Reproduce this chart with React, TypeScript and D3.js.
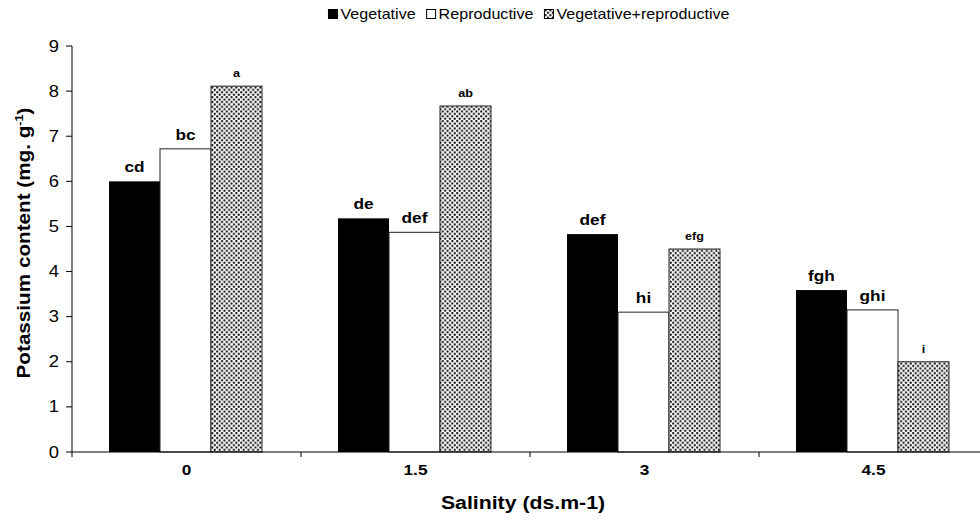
import React, { useEffect, useRef } from 'react';
import * as d3 from 'd3';

// Potassium content by salinity level and organ
const categories = ['0', '1.5', '3', '4.5'];
const series = ['Vegetative', 'Reproductive', 'Vegetative+reproductive'];
const vegetative = [6.0, 5.18, 4.83, 3.59];
const reproductive = [6.72, 4.87, 3.1, 3.15];
const vegReproductive = [8.11, 7.67, 4.5, 2.0];
const vegLetters = ['cd', 'de', 'def', 'fgh'];
const repLetters = ['bc', 'def', 'hi', 'ghi'];
const vegRepLetters = ['a', 'ab', 'efg', 'i'];
const yTicks = [0, 1, 2, 3, 4, 5, 6, 7, 8, 9];

const FONT = 'Arial, "Liberation Sans", Helvetica, sans-serif';
const SX = 1.15; // source text is a bit wider than Arial

export default function App() {
  const svgRef = useRef<SVGSVGElement | null>(null);

  useEffect(() => {
    const width = 980;
    const height = 521;
    const margin = { top: 46, right: -8, bottom: 69, left: 72 };

    const svg = d3.select(svgRef.current).attr('width', width).attr('height', height);
    svg.selectAll('*').remove();

    const defs = svg.append('defs');
    const p = 4.8;
    const pat = defs.append('pattern').attr('id', 'dots')
      .attr('width', p).attr('height', p).attr('patternUnits', 'userSpaceOnUse');
    pat.append('rect').attr('width', p).attr('height', p).attr('fill', '#fff');
    pat.append('circle').attr('cx', p / 4).attr('cy', p / 4).attr('r', 1.1).attr('fill', '#000');
    pat.append('circle').attr('cx', (3 * p) / 4).attr('cy', (3 * p) / 4).attr('r', 1.1).attr('fill', '#000');

    const x = d3.scaleBand().domain(categories).range([margin.left, width - margin.right]);
    const inner = d3.scaleBand().domain(series).range([37, 190]);
    const y = d3.scaleLinear().domain([0, 9]).range([height - margin.bottom, margin.top]);

    const fills = ['#000', '#fff', 'url(#dots)'];
    const valueSets = [vegetative, reproductive, vegReproductive];
    const letterSets = [vegLetters, repLetters, vegRepLetters];
    const letterSize = [15, 15, 11];

    const txt = (g: any, px: number, py: number, s: string, size: number, bold = false, anchor = 'middle', rot = 0) =>
      g.append('text')
        .attr('transform', `translate(${px},${py}) rotate(${rot}) scale(${SX},1)`)
        .attr('text-anchor', anchor)
        .attr('font-family', FONT)
        .attr('font-size', size)
        .attr('font-weight', bold ? 'bold' : 'normal')
        .attr('fill', '#000')
        .text(s);

    // Bars
    series.forEach((s, si) => {
      const g = svg.append('g');
      categories.forEach((c, ci) => {
        const v = valueSets[si][ci];
        const bx = (x(c) as number) + (inner(s) as number);
        g.append('rect')
          .attr('x', bx).attr('y', y(v))
          .attr('width', inner.bandwidth()).attr('height', y(0) - y(v))
          .attr('fill', fills[si])
          .attr('stroke', si === 0 ? 'none' : '#222').attr('stroke-width', 1);
        txt(g, bx + inner.bandwidth() / 2, y(v) - 9, letterSets[si][ci], letterSize[si], true);
      });
    });

    // Y axis
    const ax = svg.append('g');
    ax.append('line').attr('x1', margin.left).attr('x2', margin.left)
      .attr('y1', y(0)).attr('y2', y(9)).attr('stroke', '#000');
    yTicks.forEach(t => {
      ax.append('line').attr('x1', margin.left - 6).attr('x2', margin.left)
        .attr('y1', y(t)).attr('y2', y(t)).attr('stroke', '#000');
      txt(ax, margin.left - 13, y(t) + 5.5, String(t), 16, false, 'end');
    });

    // X axis
    ax.append('line').attr('x1', margin.left).attr('x2', width)
      .attr('y1', y(0)).attr('y2', y(0)).attr('stroke', '#000');
    categories.forEach(c => {
      const bx = x(c) as number;
      ax.append('line').attr('x1', bx).attr('x2', bx)
        .attr('y1', y(0)).attr('y2', y(0) + 5).attr('stroke', '#000');
      txt(ax, bx + x.bandwidth() / 2, 475, c, 15, true);
    });

    // Axis titles
    txt(svg, 523, 509, 'Salinity (ds.m-1)', 18.5, true);
    const yt = svg.append('text')
      .attr('transform', `translate(30,243) rotate(-90) scale(${SX},1)`)
      .attr('text-anchor', 'middle')
      .attr('font-family', FONT).attr('font-size', 18).attr('font-weight', 'bold');
    yt.append('tspan').text('Potassium content (mg. g');
    yt.append('tspan').attr('font-size', 11).attr('dy', -7).text('-1');
    yt.append('tspan').attr('dy', 7).text(')');

    // Legend
    const leg = svg.append('g');
    let cx = 0;
    series.forEach((s, si) => {
      leg.append('rect').attr('x', cx).attr('y', -4.5).attr('width', 9).attr('height', 9)
        .attr('fill', fills[si]).attr('stroke', '#000').attr('stroke-width', 1);
      const t = txt(leg, cx + 12, 5, s, 14, false, 'start');
      const w = (t.node() as SVGTextElement).getComputedTextLength() * SX;
      cx += 12 + w + 11;
    });
    leg.attr('transform', `translate(${529 - (cx - 11) / 2},14)`);
  }, []);

  return (
    <div style={{ position: 'absolute', left: 0, top: 0, width: 980, height: 521, background: '#fff' }}>
      <svg ref={svgRef} style={{ display: 'block' }} />
    </div>
  );
}
